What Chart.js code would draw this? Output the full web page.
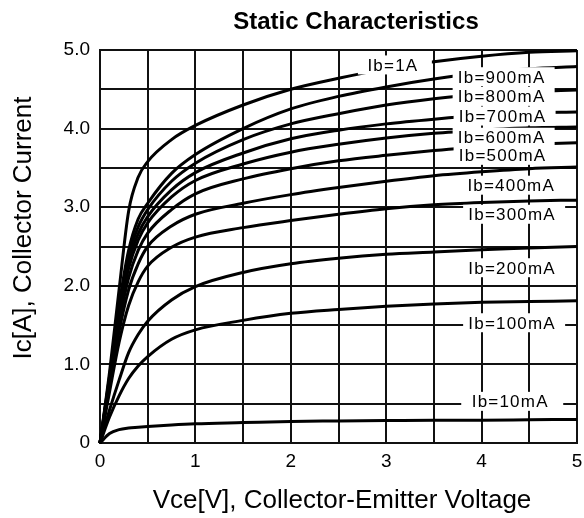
<!DOCTYPE html>
<html>
<head>
<meta charset="utf-8">
<title>Static Characteristics</title>
<script src="https://cdn.jsdelivr.net/npm/chart.js@4.4.1/dist/chart.umd.min.js"></script>
<style>
  html, body { margin: 0; padding: 0; background: #fff; }
  #chart { display: block; }
</style>
</head>
<body>
<canvas id="chart" width="584" height="518"></canvas>
<script>
// Vce sample points [V]
const vce = [0, 0.1, 0.2, 0.3, 0.4, 0.5, 0.75, 1, 1.5, 2, 2.5, 3, 3.5, 4, 4.5, 5];

// Ic [A] for each base current
const ib1A  = [0, 0.90, 1.95, 2.95, 3.38, 3.58, 3.86, 4.04, 4.30, 4.50, 4.64, 4.76, 4.85, 4.92, 4.97, 4.99];
const ib900 = [0, 0.85, 1.75, 2.45, 2.85, 3.05, 3.43, 3.67, 4.00, 4.25, 4.41, 4.53, 4.63, 4.71, 4.76, 4.79];
const ib800 = [0, 0.82, 1.70, 2.38, 2.75, 2.97, 3.33, 3.56, 3.86, 4.06, 4.19, 4.30, 4.38, 4.44, 4.47, 4.49];
const ib700 = [0, 0.80, 1.65, 2.30, 2.66, 2.88, 3.22, 3.44, 3.69, 3.87, 3.98, 4.06, 4.12, 4.17, 4.20, 4.21];
const ib600 = [0, 0.78, 1.60, 2.22, 2.58, 2.80, 3.13, 3.34, 3.55, 3.70, 3.80, 3.88, 3.94, 3.98, 4.01, 4.02];
const ib500 = [0, 0.75, 1.52, 2.10, 2.45, 2.67, 2.97, 3.17, 3.36, 3.49, 3.59, 3.66, 3.72, 3.77, 3.80, 3.82];
const ib400 = [0, 0.72, 1.42, 1.95, 2.28, 2.50, 2.76, 2.91, 3.05, 3.16, 3.25, 3.33, 3.40, 3.45, 3.49, 3.51];
const ib300 = [0, 0.65, 1.28, 1.75, 2.05, 2.25, 2.49, 2.62, 2.74, 2.83, 2.91, 2.98, 3.03, 3.06, 3.08, 3.09];
const ib200 = [0, 0.42, 0.80, 1.15, 1.38, 1.55, 1.82, 1.99, 2.17, 2.28, 2.35, 2.40, 2.43, 2.46, 2.48, 2.50];
const ib100 = [0, 0.33, 0.60, 0.82, 0.98, 1.10, 1.32, 1.44, 1.56, 1.65, 1.70, 1.74, 1.77, 1.79, 1.80, 1.81];
const ib10  = [0, 0.12, 0.17, 0.19, 0.20, 0.21, 0.23, 0.245, 0.26, 0.275, 0.28, 0.285, 0.29, 0.29, 0.295, 0.30];

const curveNames = ['Ib=1A', 'Ib=900mA', 'Ib=800mA', 'Ib=700mA', 'Ib=600mA', 'Ib=500mA',
                    'Ib=400mA', 'Ib=300mA', 'Ib=200mA', 'Ib=100mA', 'Ib=10mA'];
const curveSeries = [ib1A, ib900, ib800, ib700, ib600, ib500, ib400, ib300, ib200, ib100, ib10];

// where each curve label sits (data units)
const labelVce = [3.07, 4.21, 4.21, 4.22, 4.21, 4.22, 4.31, 4.32, 4.32, 4.32, 4.30];
const labelIc  = [4.81, 4.66, 4.41, 4.16, 3.89, 3.66, 3.28, 2.91, 2.23, 1.53, 0.53];

const xTickLabels = ['0', '1', '2', '3', '4', '5'];
const yTickLabels = ['0', '1.0', '2.0', '3.0', '4.0', '5.0'];

const chartTitle = 'Static Characteristics';
const xTitle = 'Vce[V], Collector-Emitter Voltage';
const yTitle = 'Ic[A], Collector Current';

const FONT = "'Liberation Sans', Arial, Helvetica, sans-serif";

// white boxed labels on the curves + titles
const labelPlugin = {
  id: 'curveLabels',
  afterDatasetsDraw(chart) {
    const c = chart.ctx;
    const xs = chart.scales.x, ys = chart.scales.y;
    c.save();
    c.font = '17px ' + FONT;
    c.letterSpacing = '1.2px';
    c.textAlign = 'center';
    c.textBaseline = 'alphabetic';
    curveNames.forEach((name, k) => {
      const px = xs.getPixelForValue(labelVce[k]);
      const py = ys.getPixelForValue(labelIc[k]);
      const w = k === 0 ? 74 : 102;
      c.fillStyle = '#fff';
      c.fillRect(px - w / 2 + 2, py - 9.5, w, 19);
      c.fillStyle = '#000';
      c.fillText(name, px, py + 6);
    });
    c.restore();
  },
  afterDraw(chart) {
    const c = chart.ctx;
    c.save();
    c.fillStyle = '#000';
    c.textAlign = 'center';
    c.textBaseline = 'alphabetic';
    c.font = 'bold 24px ' + FONT;
    c.fillText(chartTitle, 356, 29);
    c.font = '26px ' + FONT;
    c.fillText(xTitle, 342, 508);
    c.translate(31, 228);
    c.rotate(-Math.PI / 2);
    c.fillText(yTitle, 0, 0);
    c.restore();
  }
};

const gridStyle = { color: '#111', lineWidth: 2, drawTicks: false };
const tickFont = { family: FONT, size: 19 };

new Chart(document.getElementById('chart'), {
  type: 'line',
  data: {
    datasets: curveSeries.map((s, k) => ({
      label: curveNames[k],
      data: vce.map((v, j) => ({ x: v, y: s[j] })),
      borderColor: '#000',
      borderWidth: 3,
      pointRadius: 0,
      fill: false,
      cubicInterpolationMode: 'monotone',
      clip: 4
    }))
  },
  options: {
    responsive: false,
    animation: false,
    layout: { padding: { top: 50, right: 7, left: 0, bottom: 0 } },
    plugins: {
      legend: { display: false },
      tooltip: { enabled: false },
      title: { display: false }
    },
    scales: {
      x: {
        type: 'linear',
        min: 0,
        max: 5,
        grid: gridStyle,
        border: { color: '#111', width: 2 },
        ticks: {
          stepSize: 0.5,
          autoSkip: false,
          maxRotation: 0,
          padding: 7,
          color: '#000',
          font: tickFont,
          callback: v => Number.isInteger(v) ? xTickLabels[v] : ''
        },
        afterFit: s => { s.height = 75; s.paddingLeft = 0; s.paddingRight = 0; }
      },
      y: {
        type: 'linear',
        min: 0,
        max: 5,
        grid: gridStyle,
        border: { color: '#111', width: 2 },
        ticks: {
          stepSize: 0.5,
          autoSkip: false,
          padding: 10,
          color: '#000',
          font: tickFont,
          callback: v => Number.isInteger(v) ? yTickLabels[v] : ''
        },
        afterFit: s => { s.width = 100; s.paddingTop = 0; s.paddingBottom = 0; }
      }
    }
  },
  plugins: [labelPlugin]
});
</script>
</body>
</html>
